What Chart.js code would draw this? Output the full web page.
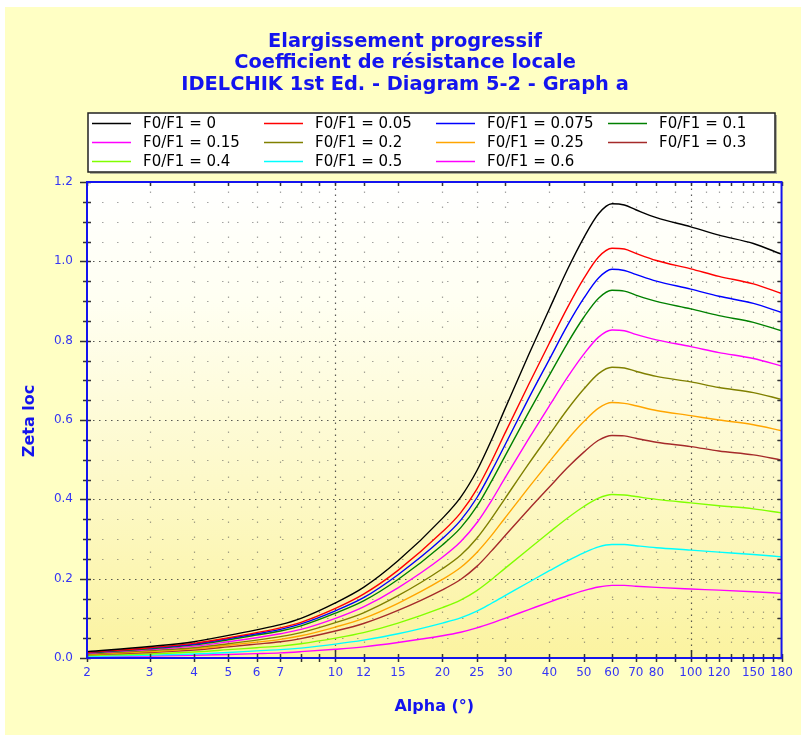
<!DOCTYPE html>
<html lang="fr">
<head>
<meta charset="UTF-8">
<title>Elargissement progressif</title>
<script src="https://cdn.jsdelivr.net/npm/chart.js"></script>
<style>
    html, body { margin: 0; padding: 0; background: #ffffff; }
    #wrap {
        position: absolute;
        left: 5px;
        top: 7px;
        width: 796px;
        height: 728px;
        background: #FFFFC4;
    }
</style>
</head>
<body>
<div id="wrap"><canvas id="chart"></canvas></div>
<script>
    // angle d'ouverture (degres)
    const alpha = [2, 3, 4, 5, 6, 7, 8, 10, 12, 15, 20, 22.5, 25, 27.5, 30, 35, 40, 45, 50, 55, 60, 65, 70, 80, 100, 120, 150, 180];

    // Zeta loc pour chaque F0/F1
    const zeta_0     = [0.016, 0.029, 0.041, 0.057, 0.071, 0.084, 0.100, 0.139, 0.178, 0.245, 0.352, 0.405, 0.472, 0.550, 0.628, 0.765, 0.880, 0.980, 1.060, 1.120, 1.145, 1.142, 1.130, 1.110, 1.087, 1.066, 1.045, 1.018];
    const zeta_005   = [0.014, 0.026, 0.037, 0.051, 0.064, 0.076, 0.090, 0.125, 0.161, 0.221, 0.318, 0.366, 0.426, 0.496, 0.567, 0.690, 0.794, 0.884, 0.957, 1.011, 1.033, 1.031, 1.020, 1.002, 0.981, 0.962, 0.943, 0.919];
    const zeta_0075  = [0.014, 0.025, 0.035, 0.049, 0.061, 0.072, 0.086, 0.119, 0.152, 0.210, 0.301, 0.347, 0.404, 0.471, 0.537, 0.655, 0.753, 0.839, 0.907, 0.958, 0.980, 0.977, 0.967, 0.950, 0.930, 0.912, 0.894, 0.871];
    const zeta_01    = [0.013, 0.023, 0.033, 0.046, 0.058, 0.068, 0.081, 0.113, 0.144, 0.198, 0.285, 0.328, 0.382, 0.446, 0.509, 0.620, 0.713, 0.794, 0.859, 0.907, 0.927, 0.925, 0.915, 0.899, 0.880, 0.863, 0.846, 0.825];
    const zeta_015   = [0.012, 0.021, 0.030, 0.041, 0.051, 0.061, 0.072, 0.100, 0.129, 0.177, 0.254, 0.293, 0.341, 0.397, 0.454, 0.553, 0.636, 0.708, 0.766, 0.809, 0.827, 0.825, 0.816, 0.802, 0.785, 0.770, 0.755, 0.736];
    const zeta_02    = [0.010, 0.019, 0.026, 0.036, 0.045, 0.054, 0.064, 0.089, 0.114, 0.157, 0.225, 0.259, 0.302, 0.352, 0.402, 0.490, 0.563, 0.627, 0.678, 0.717, 0.733, 0.731, 0.723, 0.710, 0.696, 0.682, 0.669, 0.652];
    const zeta_025   = [0.009, 0.016, 0.023, 0.032, 0.040, 0.047, 0.056, 0.078, 0.100, 0.138, 0.198, 0.228, 0.266, 0.309, 0.353, 0.430, 0.495, 0.551, 0.596, 0.630, 0.644, 0.642, 0.636, 0.624, 0.611, 0.600, 0.588, 0.573];
    const zeta_03    = [0.008, 0.014, 0.020, 0.028, 0.035, 0.041, 0.049, 0.068, 0.087, 0.120, 0.172, 0.198, 0.231, 0.270, 0.308, 0.375, 0.431, 0.480, 0.519, 0.549, 0.561, 0.560, 0.554, 0.544, 0.533, 0.522, 0.512, 0.499];
    const zeta_04    = [0.006, 0.010, 0.015, 0.021, 0.026, 0.030, 0.036, 0.050, 0.064, 0.088, 0.127, 0.146, 0.170, 0.198, 0.226, 0.275, 0.317, 0.353, 0.382, 0.403, 0.412, 0.411, 0.407, 0.400, 0.391, 0.384, 0.376, 0.366];
    const zeta_05    = [0.004, 0.007, 0.010, 0.014, 0.018, 0.021, 0.025, 0.035, 0.045, 0.061, 0.088, 0.101, 0.118, 0.138, 0.157, 0.191, 0.220, 0.245, 0.265, 0.280, 0.286, 0.286, 0.283, 0.278, 0.272, 0.267, 0.261, 0.255];
    const zeta_06    = [0.003, 0.005, 0.007, 0.009, 0.011, 0.013, 0.016, 0.022, 0.028, 0.039, 0.056, 0.065, 0.076, 0.088, 0.100, 0.122, 0.141, 0.157, 0.170, 0.179, 0.183, 0.183, 0.181, 0.178, 0.174, 0.171, 0.167, 0.163];

    const ratios = ['0', '0.05', '0.075', '0.1', '0.15', '0.2', '0.25', '0.3', '0.4', '0.5', '0.6'];
    const series = [zeta_0, zeta_005, zeta_0075, zeta_01, zeta_015, zeta_02, zeta_025, zeta_03, zeta_04, zeta_05, zeta_06];
    const colors = ['#000000', '#FF0000', '#0000FF', '#008000', '#FF00FF', '#808000', '#FFA500', '#A52A2A', '#80FF00', '#00FFFF', '#FF00FF'];

    // graduations
    const xTicks = [2, 3, 4, 5, 6, 7, 8, 9, 10, 12, 15, 20, 25, 30, 40, 50, 60, 70, 80, 90, 100, 110, 120, 130, 140, 150, 160, 170, 180];
    const xLabels = [2, 3, 4, 5, 6, 7, 10, 12, 15, 20, 25, 30, 40, 50, 60, 70, 80, 100, 120, 150, 180];
    const xMajor = [10, 100];
    const yTicks = [0, 0.05, 0.1, 0.15, 0.2, 0.25, 0.3, 0.35, 0.4, 0.45, 0.5, 0.55, 0.6, 0.65, 0.7, 0.75, 0.8, 0.85, 0.9, 0.95, 1.0, 1.05, 1.1, 1.15, 1.2];
    const yLabels = [0, 0.2, 0.4, 0.6, 0.8, 1.0, 1.2];

    const BLUE = '#1414EE';
    const LABEL_BLUE = '#3535F5';
    const FONT = 'DejaVu Sans';

    function isIn(list, v) {
        return list.some(l => Math.abs(l - v) < 1e-9);
    }

    // fond degrade + grille pointillee
    const backgroundGrid = {
        id: 'backgroundGrid',
        beforeDatasetsDraw(chart) {
            const ctx = chart.ctx;
            const a = chart.chartArea;
            const xs = chart.scales.x, ys = chart.scales.y;
            ctx.save();
            const g = ctx.createLinearGradient(0, a.top, 0, a.bottom);
            g.addColorStop(0, '#FFFFFF');
            g.addColorStop(0.25, '#FFFFF2');
            g.addColorStop(1, '#FBF3A0');
            ctx.fillStyle = g;
            ctx.fillRect(a.left, a.top, a.right - a.left, a.bottom - a.top);

            ctx.lineWidth = 1.2;
            yTicks.forEach(v => {
                if (v === 0 || v === 1.2) return;
                const y = Math.round(ys.getPixelForValue(v)) + 0.5;
                const major = isIn(yLabels, v);
                ctx.strokeStyle = major ? 'rgba(60,60,60,0.85)' : 'rgba(90,90,90,0.55)';
                ctx.setLineDash(major ? [1.5, 4.5] : [1.5, 13.5]);
                ctx.beginPath();
                ctx.moveTo(a.left, y);
                ctx.lineTo(a.right, y);
                ctx.stroke();
            });
            xTicks.forEach(v => {
                if (v === 2 || v === 180) return;
                const x = Math.round(xs.getPixelForValue(v)) + 0.5;
                const major = isIn(xMajor, v);
                ctx.strokeStyle = major ? 'rgba(60,60,60,0.85)' : 'rgba(90,90,90,0.55)';
                ctx.setLineDash(major ? [1.5, 4.5] : [1.5, 13.5]);
                ctx.beginPath();
                ctx.moveTo(x, a.bottom);
                ctx.lineTo(x, a.top);
                ctx.stroke();
            });
            ctx.restore();
        }
    };

    // cadre, petites graduations, titres des axes et legende
    const frameLegend = {
        id: 'frameLegend',
        afterDatasetsDraw(chart) {
            const ctx = chart.ctx;
            const a = chart.chartArea;
            const xs = chart.scales.x, ys = chart.scales.y;
            ctx.save();
            ctx.setLineDash([]);
            ctx.strokeStyle = '#333333';
            ctx.lineWidth = 1.5;
            ctx.beginPath();
            yTicks.forEach(v => {
                const y = Math.round(ys.getPixelForValue(v)) + 0.5;
                const major = isIn(yLabels, v);
                ctx.moveTo(a.left - (major ? 7 : 4), y);
                ctx.lineTo(a.left + 4, y);
                ctx.moveTo(a.right - 4, y);
                ctx.lineTo(a.right, y);
            });
            xTicks.forEach(v => {
                const x = Math.round(xs.getPixelForValue(v)) + 0.5;
                const major = isIn(xMajor, v);
                ctx.moveTo(x, a.bottom + 4);
                ctx.lineTo(x, a.bottom - (major ? 8 : 4));
                ctx.moveTo(x, a.top);
                ctx.lineTo(x, a.top + 4);
            });
            ctx.stroke();

            ctx.strokeStyle = BLUE;
            ctx.lineWidth = 2;
            ctx.strokeRect(a.left, a.top, a.right - a.left, a.bottom - a.top);
            ctx.restore();
        },
        afterDraw(chart) {
            const ctx = chart.ctx;
            const a = chart.chartArea;
            ctx.save();

            // titres des axes
            ctx.fillStyle = BLUE;
            ctx.font = 'bold 16px "' + FONT + '"';
            ctx.textAlign = 'center';
            ctx.textBaseline = 'middle';
            ctx.fillText('Alpha (°)', (a.left + a.right) / 2, 700);
            ctx.translate(25, 414);
            ctx.rotate(-Math.PI / 2);
            ctx.fillText('Zeta loc', 0, 0);
            ctx.restore();

            // legende
            ctx.save();
            const bx = 83, by = 106, bw = 687, bh = 59;
            ctx.fillStyle = 'rgba(120,120,120,0.6)';
            ctx.fillRect(bx + 2, by + 2, bw, bh);
            ctx.fillStyle = '#FFFFFF';
            ctx.fillRect(bx, by, bw, bh);
            ctx.strokeStyle = '#222222';
            ctx.lineWidth = 1.5;
            ctx.strokeRect(bx, by, bw, bh);
            ctx.font = '15px "' + FONT + '"';
            ctx.textAlign = 'left';
            ctx.textBaseline = 'middle';
            chart.data.datasets.forEach((ds, i) => {
                const col = i % 4, row = Math.floor(i / 4);
                const x = 87 + col * 172;
                const y = 116 + row * 19;
                ctx.strokeStyle = ds.borderColor;
                ctx.lineWidth = 1.5;
                ctx.beginPath();
                ctx.moveTo(x, y + 0.5);
                ctx.lineTo(x + 39, y + 0.5);
                ctx.stroke();
                ctx.fillStyle = '#000000';
                ctx.fillText(ds.label, x + 51, y + 1);
            });
            ctx.restore();
        }
    };

    new Chart(document.getElementById('chart'), {
        type: 'line',
        data: {
            datasets: series.map((s, i) => ({
                label: 'F0/F1 = ' + ratios[i],
                data: alpha.map((a, j) => ({ x: a, y: s[j] })),
                borderColor: colors[i],
                backgroundColor: colors[i],
                borderWidth: 1.4,
                pointRadius: 0,
                fill: false,
                cubicInterpolationMode: 'monotone'
            }))
        },
        options: {
            responsive: true,
            maintainAspectRatio: false,
            animation: false,
            layout: { padding: { left: 13, right: 9, top: 0, bottom: 0 } },
            plugins: {
                legend: { display: false },
                tooltip: { enabled: false },
                title: {
                    display: true,
                    text: ['Elargissement progressif', 'Coefficient de résistance locale', 'IDELCHIK 1st Ed. - Diagram 5-2 - Graph a'],
                    color: BLUE,
                    font: { family: FONT, size: 19.4, weight: 'bold', lineHeight: 1.11 },
                    padding: { top: 24, bottom: 86.4 }
                }
            },
            scales: {
                x: {
                    type: 'logarithmic',
                    min: 2,
                    max: 180,
                    afterBuildTicks: s => { s.ticks = xTicks.map(v => ({ value: v })); },
                    afterFit: s => { s.height = 77; },
                    grid: { display: false, drawTicks: false },
                    border: { display: false },
                    ticks: {
                        autoSkip: false,
                        maxRotation: 0,
                        minRotation: 0,
                        padding: 8,
                        color: LABEL_BLUE,
                        font: { family: FONT, size: 12 },
                        callback: v => isIn(xLabels, v) ? String(v) : ''
                    }
                },
                y: {
                    min: 0,
                    max: 1.2,
                    afterBuildTicks: s => { s.ticks = yTicks.map(v => ({ value: v })); },
                    afterFit: s => { s.width = 69; },
                    grid: { display: false, drawTicks: false },
                    border: { display: false },
                    ticks: {
                        autoSkip: false,
                        padding: 14,
                        color: LABEL_BLUE,
                        font: { family: FONT, size: 12 },
                        callback: v => isIn(yLabels, v) ? v.toFixed(1) : ''
                    }
                }
            }
        },
        plugins: [backgroundGrid, frameLegend]
    });
</script>
</body>
</html>
